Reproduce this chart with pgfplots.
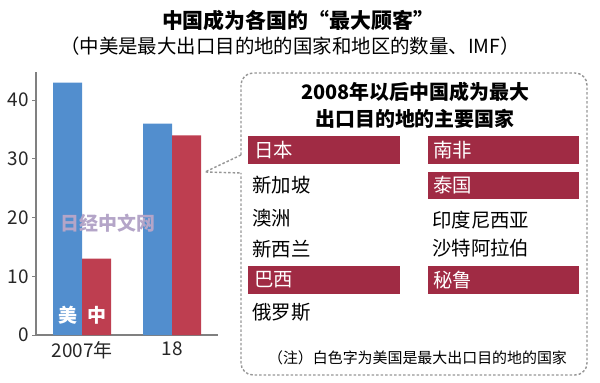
\documentclass[border=0pt]{standalone}
\usepackage{pgfplots}
\pgfplotsset{compat=1.18}
\usepackage{fontspec}
\setmainfont{Noto Sans CJK SC}
\definecolor{cblue}{RGB}{82,142,206}
\definecolor{cred}{RGB}{190,62,80}
\definecolor{bred}{RGB}{160,43,68}
\definecolor{axgray}{RGB}{128,128,128}
\definecolor{dashgray}{RGB}{150,150,150}
\definecolor{wmcol}{RGB}{180,165,200}
\newcommand{\cn}{\fontsize{19.5}{20}\selectfont}
\begin{document}
\begin{tikzpicture}
\useasboundingbox (0,0) rectangle (600bp,383bp);
\begin{axis}[
  at={(36bp,48bp)}, anchor=south west,
  scale only axis, width=182bp, height=263bp,
  xmin=0, xmax=182, ymin=0, ymax=44.8,
  axis x line*=bottom, axis y line*=left,
  axis line style={draw=axgray, line width=1.2bp},
  ytick={0,10,20,30,40},
  xtick={46,136}, xticklabels={2007年,18},
  tick align=outside, major tick length=3.5bp,
  ytick style={draw=axgray, line width=1bp},
  xtick style={draw=none},
  tick label style={font=\fontsize{19}{19}\selectfont, text=black!85},
  /pgf/number format/assume math mode=true,
  clip=false,
]
\addplot[ybar, bar width=29, bar shift=-14.5, fill=cblue, draw=none] coordinates {(46,43) (136,36)};
\addplot[ybar, bar width=29, bar shift=14.5, fill=cred, draw=none] coordinates {(46,13) (136,34)};
\end{axis}
\begin{scope}[shift={(0bp,383bp)}, x=1bp, y=-1bp]
% titles
\node[font=\fontsize{21}{21}\selectfont\bfseries] at (298,21) {中国成为各国的“最大顾客”};
\node[font=\fontsize{19.5}{20}\selectfont] at (290,46) {（中美是最大出口目的地的国家和地区的数量、IMF）};
% bar labels
\node[font=\fontsize{19}{19}\selectfont\bfseries, text=white] at (67.5,315) {美};
\node[font=\fontsize{19}{19}\selectfont\bfseries, text=white] at (96.5,315) {中};
% watermark
\node[font=\fontsize{19}{19}\selectfont\bfseries, text=wmcol] at (108,223) {日经中文网};
% box
\draw[dashgray, line width=1.4bp, dash pattern=on 2.5bp off 2bp, rounded corners=12bp]
  (241,155) -- (241,73) -- (587,73) -- (587,375) -- (241,375) -- (241,173);
\draw[dashgray, line width=1.4bp, dash pattern=on 2.5bp off 2bp]
  (241,155) -- (205,172) -- (241,173);
\node[font=\fontsize{20}{20}\selectfont\bfseries] at (415,92) {2008年以后中国成为最大};
\node[font=\fontsize{20}{20}\selectfont\bfseries] at (415,119) {出口目的地的主要国家};
% red bars
\fill[bred] (248,136) rectangle (400,164);
\fill[bred] (428,136) rectangle (579,164);
\fill[bred] (428,172) rectangle (579,199);
\fill[bred] (248,266) rectangle (400,294);
\fill[bred] (428,266) rectangle (579,294);
\node[anchor=west, text=white, font=\cn, inner sep=0pt] at (254,150) {日本};
\node[anchor=west, text=white, font=\cn, inner sep=0pt] at (433,150) {南非};
\node[anchor=west, text=white, font=\cn, inner sep=0pt] at (433,185.5) {泰国};
\node[anchor=west, text=white, font=\cn, inner sep=0pt] at (254,280) {巴西};
\node[anchor=west, text=white, font=\cn, inner sep=0pt] at (433,280) {秘鲁};
% plain countries
\node[anchor=west, font=\cn, inner sep=0pt] at (252,185) {新加坡};
\node[anchor=west, font=\cn, inner sep=0pt] at (252,218) {澳洲};
\node[anchor=west, font=\cn, inner sep=0pt] at (252,249) {新西兰};
\node[anchor=west, font=\cn, inner sep=0pt] at (252,312) {俄罗斯};
\node[anchor=west, font=\cn, inner sep=0pt] at (432,220) {印度尼西亚};
\node[anchor=west, font=\cn, inner sep=0pt] at (432,248) {沙特阿拉伯};
% note
\node[font=\fontsize{15}{15}\selectfont] at (417.5,358) {（注）白色字为美国是最大出口目的地的国家};
\end{scope}
\end{tikzpicture}
\end{document}
